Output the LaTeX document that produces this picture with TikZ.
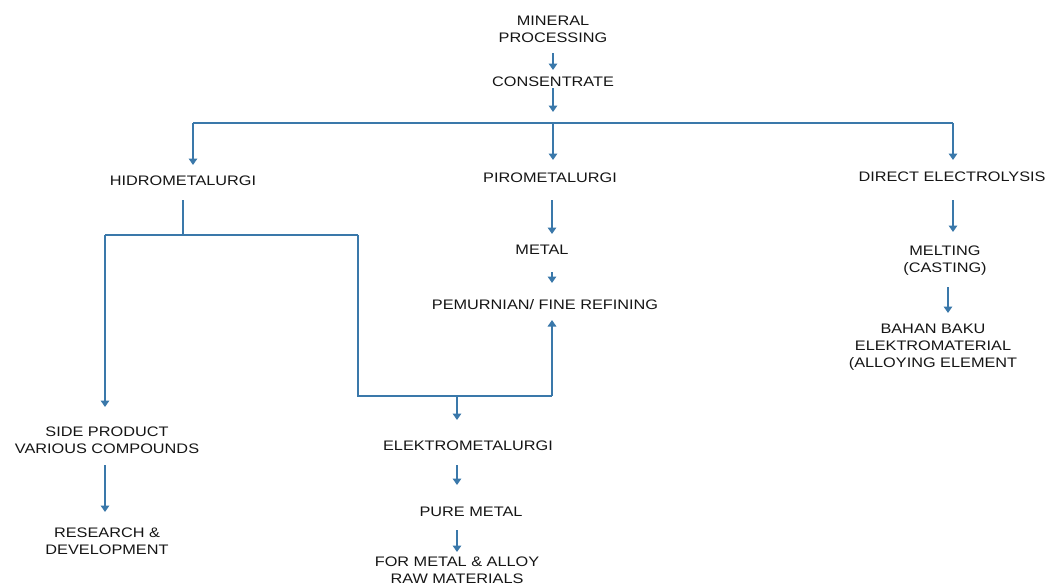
\documentclass[tikz,border=0pt]{standalone}
\usepackage{fontspec}
\setmainfont{Liberation Sans}[FakeStretch=1.18]
\usetikzlibrary{arrows.meta}
\definecolor{flow}{HTML}{3A78AA}
\definecolor{ink}{HTML}{151515}
\tikzset{
  lbl/.style={inner sep=0pt, align=center, text=ink,
    font=\fontsize{13.8}{17}\selectfont},
  link/.style={draw=flow, line width=2pt},
  arr/.style={link, -{Triangle[width=8.5pt,length=6.5pt]}},
}
\begin{document}
\begin{tikzpicture}[x=1pt,y=-1pt]
\useasboundingbox (0,0) rectangle (1049,584);

% process stages
\node[lbl] (mp)   at (553,29.5) {MINERAL\\PROCESSING};
\node[lbl] (con)  at (553,82)   {CONSENTRATE};
\node[lbl] (hid)  at (183,181)  {HIDROMETALURGI};
\node[lbl] (pir)  at (550,178)  {PIROMETALURGI};
\node[lbl] (dir)  at (952,177)  {DIRECT ELECTROLYSIS};
\node[lbl] (met)  at (542,250)  {METAL};
\node[lbl] (ref)  at (545,305)  {PEMURNIAN/ FINE REFINING};
\node[lbl] (mel)  at (945,261)  {MELTING\\(CASTING)};
\node[lbl] (bah)  at (933,347)  {BAHAN BAKU\\ELEKTROMATERIAL\\(ALLOYING ELEMENT};
\node[lbl] (side) at (107,440.5){SIDE PRODUCT\\VARIOUS COMPOUNDS};
\node[lbl] (rnd)  at (107,541.5){RESEARCH \&\\DEVELOPMENT};
\node[lbl] (elk)  at (468,446)  {ELEKTROMETALURGI};
\node[lbl] (pure) at (471,512)  {PURE METAL};
\node[lbl] (fma)  at (457,570)  {FOR METAL \& ALLOY\\RAW MATERIALS};

% connector end points
\coordinate (mp-out)   at (553,53);
\coordinate (con-in)   at (553,70);
\coordinate (con-out)  at (553,88);
\coordinate (bar-in)   at (553,112);
\coordinate (bar-l)    at (193,123);
\coordinate (bar-m)    at (553,123);
\coordinate (bar-r)    at (953,123);
\coordinate (hid-in)   at (193,165);
\coordinate (pir-in)   at (553,160);
\coordinate (dir-in)   at (953,160);
\coordinate (hid-out)  at (183,200);
\coordinate (split)    at (183,235);
\coordinate (split-l)  at (105,235);
\coordinate (split-r)  at (358,235);
\coordinate (side-in)  at (105,407);
\coordinate (join-l)   at (358,396);
\coordinate (join-r)   at (552,396);
\coordinate (join-m)   at (457,396);
\coordinate (ref-in2)  at (552,320);
\coordinate (elk-in)   at (457,420);
\coordinate (pir-out)  at (552,200);
\coordinate (met-in)   at (552,234);
\coordinate (met-out)  at (552,272);
\coordinate (ref-in)   at (552,283);
\coordinate (dir-out)  at (953,200);
\coordinate (mel-in)   at (953,232);
\coordinate (mel-out)  at (948,287);
\coordinate (bah-in)   at (948,313);
\coordinate (side-out) at (105,465);
\coordinate (rnd-in)   at (105,512);
\coordinate (elk-out)  at (457,465);
\coordinate (pure-in)  at (457,485);
\coordinate (pure-out) at (457,530);
\coordinate (fma-in)   at (457,552);

% main trunk
\draw[arr] (mp-out) -- (con-in);
\draw[arr] (con-out) -- (bar-in);
\draw[link] (bar-l) -- (bar-r);
\draw[arr] (bar-l) -- (hid-in);
\draw[arr] (bar-m) -- (pir-in);
\draw[arr] (bar-r) -- (dir-in);

% hydrometallurgy branch
\draw[link] (hid-out) -- (split);
\draw[link] (split-l) -- (split-r);
\draw[arr] (split-l) -- (side-in);
\draw[link] (split-r) -- (join-l) -- (join-r);
\draw[arr] (join-r) -- (ref-in2);
\draw[arr] (join-m) -- (elk-in);
\draw[arr] (side-out) -- (rnd-in);
\draw[arr] (elk-out) -- (pure-in);
\draw[arr] (pure-out) -- (fma-in);

% pyrometallurgy branch
\draw[arr] (pir-out) -- (met-in);
\draw[arr] (met-out) -- (ref-in);

% direct electrolysis branch
\draw[arr] (dir-out) -- (mel-in);
\draw[arr] (mel-out) -- (bah-in);
\end{tikzpicture}
\end{document}
